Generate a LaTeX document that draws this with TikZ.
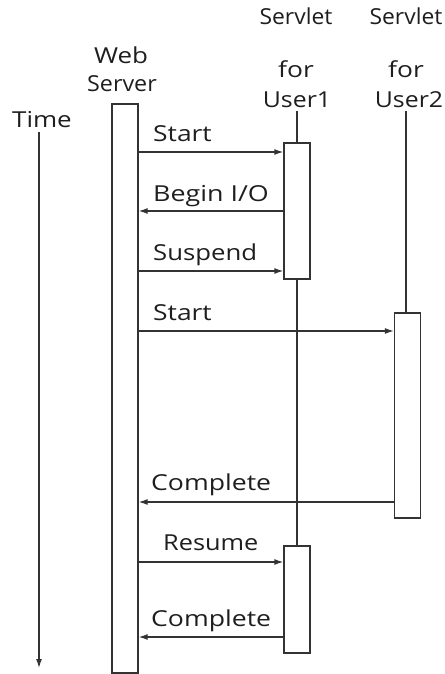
\documentclass[tikz,border=0pt]{standalone}
\usepackage{fontspec}
\setmainfont{Open Sans}
\usetikzlibrary{arrows.meta}
\definecolor{ln}{HTML}{333333}
\definecolor{tx}{HTML}{1e1e1e}
\newcommand{\wide}[2]{\scalebox{#1}[1]{#2}}
\tikzset{
  bar/.style={draw=ln, line width=1.3pt, fill=white, rectangle, inner sep=0pt, minimum width=26pt},
  life/.style={draw=ln, line width=1.3pt},
  msg/.style={draw=ln, line width=1.3pt, -{Latex[length=9pt,width=6pt]}},
  lbl/.style={text=tx, font=\fontsize{22}{24}\selectfont, inner sep=0pt, anchor=base west},
  head/.style={text=tx, font=\fontsize{22}{24}\selectfont, inner sep=0pt, anchor=base},
}
\begin{document}
\begin{tikzpicture}[x=1pt,y=-1pt]
\useasboundingbox (0,0) rectangle (444,674);
% headings
\node[head] (time) at (42,128) {\wide{1.18}{Time}};
\node[head] (hweb) at (121,64) {\wide{1.18}{Web}};
\node[head] (hsrv) at (122,92) {\wide{1.06}{Server}};
\node[head] (s1a) at (296,25) {\wide{1.04}{Servlet}};
\node[head] (s1b) at (296,78) {\wide{1.2}{for}};
\node[head] (s1c) at (297,108) {\wide{1.13}{User1}};
\node[head] (s2a) at (406,25) {\wide{1.04}{Servlet}};
\node[head] (s2b) at (406,78) {\wide{1.2}{for}};
\node[head] (s2c) at (409,108) {\wide{1.13}{User2}};
% time arrow
\coordinate (t0) at (39,132);
\coordinate (t1) at (39,668);
\draw[msg] (t0) -- (t1);
% lifelines
\coordinate (l1top) at (297,111);
\coordinate (l1bot) at (297,546);
\coordinate (l2top) at (406,111);
\coordinate (l2bot) at (406,313);
\draw[life] (l1top) -- (l1bot);
\draw[life] (l2top) -- (l2bot);
% activation bars
\node[bar, minimum height=569pt] (web) at (125,388.5) {};
\node[bar, minimum height=136pt] (u1a) at (297,211) {};
\node[bar, minimum height=205pt] (u2) at (407.5,415.5) {};
\node[bar, minimum height=107pt] (u1b) at (297,599.5) {};
% messages
\coordinate (m1a) at (web.east |- 0,152); \coordinate (m1b) at (u1a.west |- 0,152);
\coordinate (m2a) at (u1a.west |- 0,211); \coordinate (m2b) at (web.east |- 0,211);
\coordinate (m3a) at (web.east |- 0,271); \coordinate (m3b) at (u1a.west |- 0,271);
\coordinate (m4a) at (web.east |- 0,331); \coordinate (m4b) at (u2.west |- 0,331);
\coordinate (m5a) at (u2.west |- 0,502); \coordinate (m5b) at (web.east |- 0,502);
\coordinate (m6a) at (web.east |- 0,562); \coordinate (m6b) at (u1b.west |- 0,562);
\coordinate (m7a) at (u1b.west |- 0,637); \coordinate (m7b) at (web.east |- 0,637);
\draw[msg] (m1a) -- (m1b);
\draw[msg] (m2a) -- (m2b);
\draw[msg] (m3a) -- (m3b);
\draw[msg] (m4a) -- (m4b);
\draw[msg] (m5a) -- (m5b);
\draw[msg] (m6a) -- (m6b);
\draw[msg] (m7a) -- (m7b);
% labels
\node[lbl] (L1) at (153,142) {\wide{1.2}{Start}};
\node[lbl] (L2) at (153,201) {\wide{1.22}{Begin I/O}};
\node[lbl] (L3) at (153,260) {\wide{1.17}{Suspend}};
\node[lbl] (L4) at (153,320) {\wide{1.2}{Start}};
\node[lbl] (L5) at (151,490) {\wide{1.21}{Complete}};
\node[lbl] (L6) at (163,550) {\wide{1.15}{Resume}};
\node[lbl] (L7) at (151,626) {\wide{1.21}{Complete}};
\end{tikzpicture}
\end{document}
